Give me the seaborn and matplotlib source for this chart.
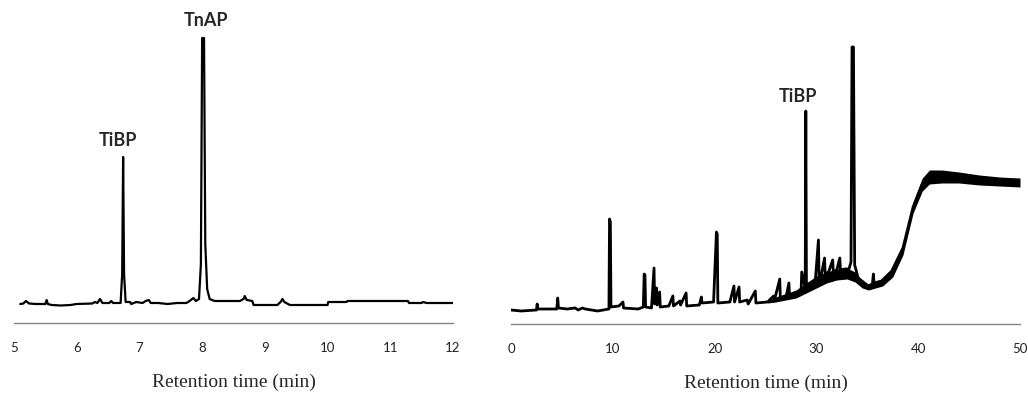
import numpy as np
import pandas as pd
import matplotlib
matplotlib.use("Agg")
import matplotlib.pyplot as plt
import seaborn as sns

# left chromatogram (5-12 min): vertices
left_time = [5.10, 5.15, 5.19, 5.24, 5.35, 5.50, 5.52, 5.54, 5.60, 5.75, 5.90, 6.00,
             6.25, 6.29, 6.33, 6.37, 6.41, 6.52, 6.55, 6.58, 6.70, 6.725, 6.74, 6.755,
             6.78, 6.85, 6.87, 6.95, 7.05, 7.10, 7.15, 7.18, 7.30, 7.45, 7.60, 7.75,
             7.80, 7.86, 7.90, 7.95, 7.98, 8.00, 8.03, 8.05, 8.08, 8.12, 8.20, 8.60,
             8.66, 8.68, 8.71, 8.80, 8.82, 9.20, 9.25, 9.28, 9.31, 9.40, 10.00, 10.01,
             10.30, 10.32, 11.28, 11.30, 11.50, 11.52, 11.58, 12.00]
left_signal = [0, 0.5, 3, 0.5, 0, 0, 4, 0, -1, -1.5, -1, 0,
               0.5, 2, 1, 5, 1, 1, 3, 1, 1, 30, 147, 30,
               2, 2, 0, 2, 1, 3, 4, 1, 1, 0, 1, 1,
               3, 6, 3, 5, 40, 266, 266, 60, 15, 5, 3, 3,
               5, 8, 4, 3, -1, -1, 2, 5, 2, -1, -1, 2,
               2, 3, 3, 1, 1, 2, 1, 1]

# right chromatogram (0-50 min)
right_time = [0.0, 1.0, 2.5, 2.57, 2.63, 4.5, 4.59, 4.66, 5.5, 6.3, 6.6, 7.0, 7.3, 8.5,
              9.62, 9.68, 9.76, 9.82, 10.6, 11.0, 11.06, 12.5, 13.0, 13.08, 13.16, 13.22,
              13.8, 14.05, 14.11, 14.3, 14.36, 14.6, 14.66, 15.5, 15.9, 15.96, 16.6,
              16.66, 17.2, 17.26, 18.5, 18.7, 18.76, 19.9, 20.18, 20.26, 20.32, 21.5,
              21.9, 21.96, 22.4, 22.46, 23.2, 23.3, 24.0, 24.06, 25.2, 25.8, 25.86,
              26.4, 26.46, 27.0, 27.3, 27.36, 27.7, 28.2, 28.5, 28.56, 28.9, 28.96,
              29.02, 29.5, 29.9, 30.2, 30.26, 30.5, 30.8, 30.86, 31.2, 31.6, 31.66,
              32.0, 32.3, 32.36, 32.8, 33.2, 33.4, 33.5, 33.64, 33.76, 34.1, 35.1,
              35.5, 35.6, 35.66, 36.4, 37.4, 38.5, 39.5, 40.4, 41.1, 42.3, 44.0,
              46.0, 47.4, 50.0]
right_signal = [0, -1, 0, 6, 1, 1, 12, 2, 1, 2, 0, 2, 1, -1,
                1, 91, 88, 3, 4, 8, 2, 1, 3, 36, 35, 3,
                2, 42, 6, 22, 5, 18, 3, 4, 14, 4, 9,
                5, 17, 4, 5, 13, 7, 8, 78, 76, 7, 8,
                24, 8, 23, 8, 10, 6, 19, 7, 8, 14, 9,
                31, 11, 12, 27, 13, 16, 18, 20, 38, 22, 199,
                25, 27, 30, 70, 34, 36, 52, 36, 38, 50, 38,
                40, 52, 40, 41, 41, 48, 263, 263, 45, 32, 24,
                26, 36, 27, 29, 39, 62, 103, 126, 133, 134, 133,
                130, 129, 128]

# thick noisy band under the hump and the end plateau
band_time = [25.2, 26.0, 28.0, 29.0, 30.0, 31.0, 32.0, 33.0, 33.8, 34.5, 35.1,
             36.5, 37.5, 38.5, 39.5, 40.4, 41.1, 42.3, 44.0, 46.0, 48.0, 50.0]
band_low = [7, 8, 12, 17, 22, 27, 30, 31, 28, 22, 20,
            24, 33, 55, 97, 119, 126, 127, 127, 125, 124, 123]
band_high = [9, 13, 20, 27, 34, 38, 41, 42, 38, 29, 26,
             31, 41, 66, 108, 132, 140, 140, 138, 135, 133, 132]

left_ticks = [5, 6, 7, 8, 9, 10, 11, 12]
right_ticks = [0, 10, 20, 30, 40, 50]

sns.set_style("white")
plt.rcParams["font.family"] = ["Lato", "DejaVu Sans"]

fig = plt.figure(figsize=(10.28, 3.93), dpi=100)
ax1 = fig.add_axes([14 / 1028, 70 / 393, 439 / 1028, 303 / 393])
ax2 = fig.add_axes([511 / 1028, 69 / 393, 509 / 1028, 304 / 393])

df_left = pd.DataFrame({"time": left_time, "signal": left_signal})
df_right = pd.DataFrame({"time": right_time, "signal": right_signal})

sns.lineplot(data=df_left, x="time", y="signal", ax=ax1, color="black",
             linewidth=1.6, estimator=None, sort=False)
sns.lineplot(data=df_right, x="time", y="signal", ax=ax2, color="black",
             linewidth=2.0, estimator=None, sort=False)
ax2.fill_between(band_time, band_low, band_high, color="black", linewidth=0)

ax1.set_xlim(5, 12)
ax1.set_ylim(-19, 284)
ax2.set_xlim(0, 50)
ax2.set_ylim(-14, 290)

for ax, ticks in [(ax1, left_ticks), (ax2, right_ticks)]:
    ax.set_xticks(ticks)
    ax.set_xticklabels([str(t) for t in ticks])
    ax.set_yticks([])
    ax.set_ylabel("")
    for side in ["left", "right", "top"]:
        ax.spines[side].set_visible(False)
    ax.spines["bottom"].set_color("#868686")
    ax.spines["bottom"].set_linewidth(1.0)
    ax.tick_params(axis="x", direction="out", length=4, width=1.0,
                   color="#868686", labelsize=9.5, labelcolor="#222222", pad=10)
    ax.set_xlabel("Retention time (min)", fontfamily="Liberation Serif",
                  fontsize=14, labelpad=14)
    ax.patch.set_alpha(0)

ax1.text(8.06, 284, "TnAP", ha="center", va="center", fontsize=13,
         fontweight="bold", clip_on=False)
ax1.text(6.66, 164, "TiBP", ha="center", va="center", fontsize=13,
         fontweight="bold", clip_on=False)
ax2.text(28.2, 214, "TiBP", ha="center", va="center", fontsize=13,
         fontweight="bold", clip_on=False)

fig.savefig("out.png", dpi=100)
